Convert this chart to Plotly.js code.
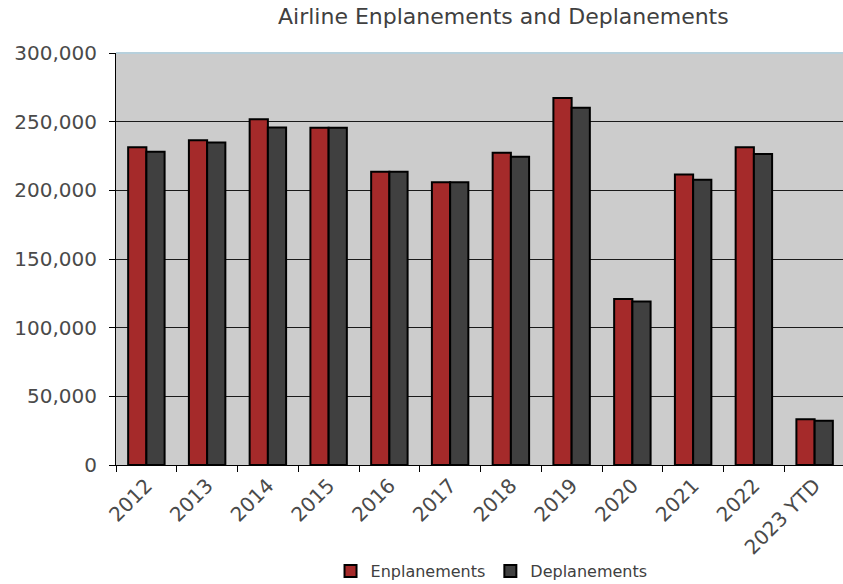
<!DOCTYPE html>
<html>
<head>
<meta charset="utf-8">
<script src="https://cdn.plot.ly/plotly-3.0.1.min.js"></script>
<style>html,body{margin:0;padding:0;overflow:hidden;background:#fff;}</style>
</head>
<body>
<div id="chart" style="width:846px;height:584px;"></div>
<script>
var categories = ["2012","2013","2014","2015","2016","2017","2018","2019","2020","2021","2022","2023 YTD"];
var enplanements = [231300,236400,251700,245500,213600,205800,227400,267300,120800,211600,231300,33300];
var deplanements = [228100,234900,245800,245500,213600,205800,224500,260200,119000,207700,226500,32300];
var yTickVals = [0,50000,100000,150000,200000,250000,300000];
var yTickText = ["0","50,000","100,000","150,000","200,000","250,000","300,000"];

var font = "DejaVu Sans, sans-serif";
var traces = [
  {type:"bar", name:"Enplanements", x:categories, y:enplanements,
   marker:{color:"#a52a2a", line:{color:"#000000", width:2}}, hoverinfo:"y"},
  {type:"bar", name:"Deplanements", x:categories, y:deplanements,
   marker:{color:"#404040", line:{color:"#000000", width:2}}, hoverinfo:"y"}
];
var layout = {
  width:846, height:584,
  margin:{l:116, r:1, t:53, b:119},
  paper_bgcolor:"#ffffff", plot_bgcolor:"#cccccc",
  font:{family:font, color:"#404040"},
  barmode:"group", bargap:0.4, bargroupgap:0,
  title:{text:"Airline Enplanements and Deplanements", font:{family:font, size:22, color:"#404040"},
         xref:"container", x:0.595, xanchor:"center", yref:"container", y:0.972, yanchor:"middle"},
  xaxis:{type:"category", showline:true, linecolor:"#000000", linewidth:1,
         ticks:"outside", tickson:"boundaries", ticklen:6, tickcolor:"#000000",
         showgrid:false, tickangle:-45, tickfont:{family:font, size:20, color:"#4a4a4a"}},
  yaxis:{range:[0,300000], tickvals:yTickVals, ticktext:yTickText,
         showline:true, linecolor:"#000000", linewidth:1, ticks:"outside", ticklen:6, tickcolor:"#000000",
         gridcolor:"#1a1a1a", gridwidth:1, zeroline:false, ticklabelstandoff:8,
         tickfont:{family:font, size:20, color:"#4a4a4a"}},
  legend:{orientation:"h", xref:"container", x:0.581, xanchor:"center", yref:"container", y:0.022, yanchor:"middle",
          font:{family:font, size:16, color:"#404040"}, itemwidth:30, traceorder:"normal"},
  shapes:[{type:"line", xref:"paper", yref:"paper", x0:0, x1:1, y0:1, y1:1, line:{color:"#b7d0dc", width:2}}],
  showlegend:true
};
Plotly.newPlot("chart", traces, layout, {displayModeBar:false, staticPlot:true});
</script>
</body>
</html>
